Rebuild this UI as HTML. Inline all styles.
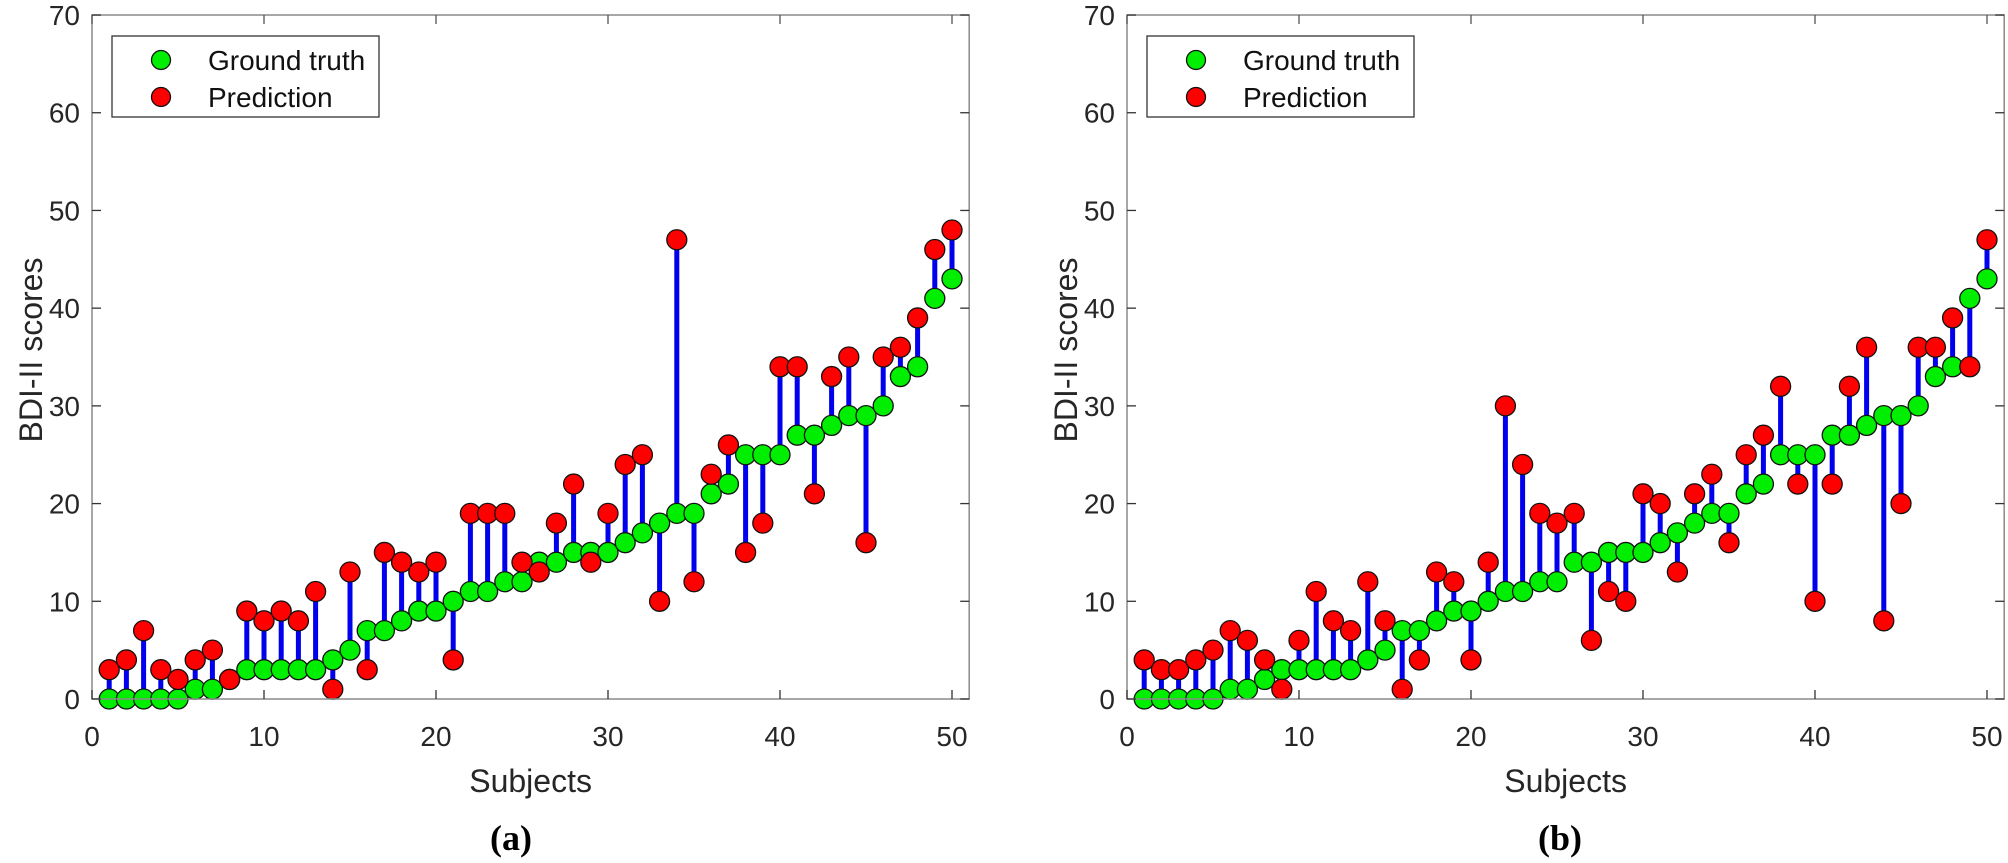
<!DOCTYPE html>
<html><head><meta charset="utf-8"><style>
html,body{margin:0;padding:0;background:#fff;width:2008px;height:863px;overflow:hidden}
</style></head><body>
<svg id="s" width="2008" height="863" xmlns="http://www.w3.org/2000/svg" font-family="Liberation Sans, Arial, sans-serif"></svg>
<script>
(function(){
var A={gt:[0,0,0,0,0,1,1,2,3,3,3,3,3,4,5,7,7,8,9,9,10,11,11,12,12,14,14,15,15,15,16,17,18,19,19,21,22,25,25,25,27,27,28,29,29,30,33,34,41,43],
pr:[3,4,7,3,2,4,5,2,9,8,9,8,11,1,13,3,15,14,13,14,4,19,19,19,14,13,18,22,14,19,24,25,10,47,12,23,26,15,18,34,34,21,33,35,16,35,36,39,46,48]};
var B={gt:A.gt,
pr:[4,3,3,4,5,7,6,4,1,6,11,8,7,12,8,1,4,13,12,4,14,30,24,19,18,19,6,11,10,21,20,13,21,23,16,25,27,32,22,10,22,32,36,8,20,36,36,39,34,47]};
var h='';
var y0=699,sy=9.771,sx=17.2,ty=15;
function panel(x0,d,cap,capx){
  var xr=x0+51*sx, Y=function(v){return y0-v*sy;}, X=function(i){return x0+i*sx;};
  var i,v,x,y;
  for(i=0;i<50;i++){h+='<line x1="'+X(i+1)+'" x2="'+X(i+1)+'" y1="'+Y(d.gt[i])+'" y2="'+Y(d.pr[i])+'" stroke="#0000ee" stroke-width="5"/>';}
  for(i=0;i<50;i++)h+='<circle cx="'+X(i+1)+'" cy="'+Y(d.gt[i])+'" r="10" fill="#00ee00" stroke="#111" stroke-width="1.3"/>';
  for(i=0;i<50;i++)h+='<circle cx="'+X(i+1)+'" cy="'+Y(d.pr[i])+'" r="10" fill="#ff0000" stroke="#111" stroke-width="1.3"/>';
  h+='<rect x="'+x0+'" y="'+ty+'" width="'+(xr-x0)+'" height="'+(y0-ty)+'" fill="none" stroke="#8a8a8a" stroke-width="1.5"/>';
  for(v=0;v<=50;v+=10){x=X(v);h+='<line x1="'+x+'" x2="'+x+'" y1="'+y0+'" y2="'+(y0-9)+'" stroke="#333" stroke-width="1.3"/><line x1="'+x+'" x2="'+x+'" y1="'+ty+'" y2="'+(ty+9)+'" stroke="#555" stroke-width="1.3"/>';
    h+='<text x="'+x+'" y="746" font-size="28" text-anchor="middle" fill="#262626">'+v+'</text>';}
  for(v=0;v<=70;v+=10){y=Y(v);h+='<line x1="'+x0+'" x2="'+(x0+9)+'" y1="'+y+'" y2="'+y+'" stroke="#333" stroke-width="1.3"/><line x1="'+xr+'" x2="'+(xr-9)+'" y1="'+y+'" y2="'+y+'" stroke="#333" stroke-width="1.3"/>';
    h+='<text x="'+(x0-12)+'" y="'+(y+10)+'" font-size="28" text-anchor="end" fill="#262626">'+v+'</text>';}
  h+='<text x="'+((x0+xr)/2)+'" y="792" font-size="32" text-anchor="middle" fill="#262626">Subjects</text>';
  h+='<text transform="translate('+(x0-50)+',350) rotate(-90)" font-size="32" text-anchor="middle" fill="#262626">BDI-II scores</text>';
  h+='<rect x="'+(x0+20)+'" y="36" width="267" height="81" fill="#fff" stroke="#333" stroke-width="1.3"/>';
  h+='<circle cx="'+(x0+69)+'" cy="60" r="9.5" fill="#00ee00" stroke="#111" stroke-width="1.3"/><text x="'+(x0+116)+'" y="70" font-size="28" fill="#111">Ground truth</text>';
  h+='<circle cx="'+(x0+69)+'" cy="97" r="9.5" fill="#ff0000" stroke="#111" stroke-width="1.3"/><text x="'+(x0+116)+'" y="107" font-size="28" fill="#111">Prediction</text>';
  h+='<text x="'+capx+'" y="850" font-size="36" font-weight="bold" text-anchor="middle" font-family="Liberation Serif, serif" fill="#000">'+cap+'</text>';
}
panel(92,A,'(a)',511);
panel(1127,B,'(b)',1560);
document.getElementById('s').innerHTML=h;
})();
</script>
</body></html>
